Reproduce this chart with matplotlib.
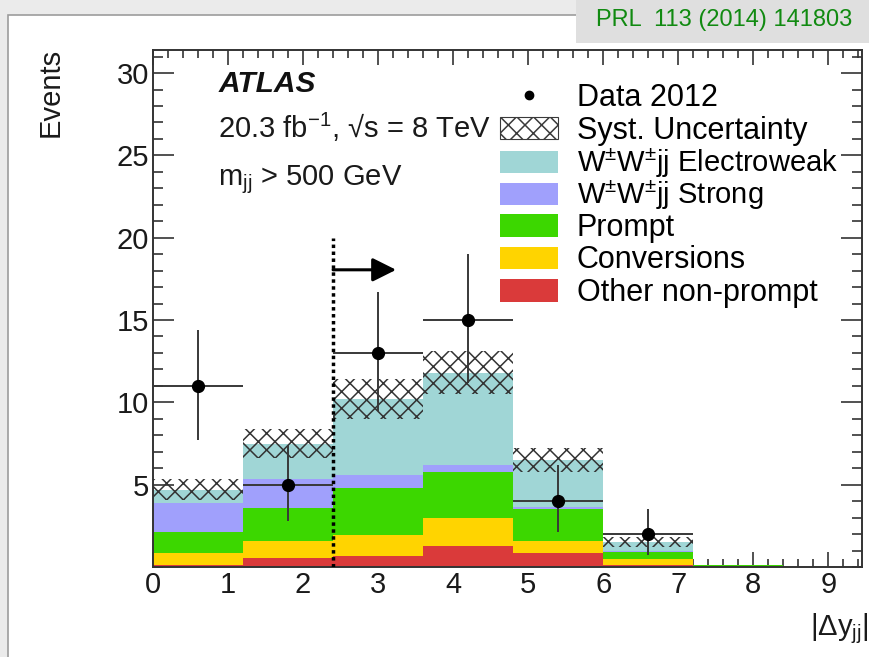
import numpy as np
import matplotlib
matplotlib.use("Agg")
import matplotlib.pyplot as plt
from matplotlib.patches import Rectangle, Patch
from matplotlib.lines import Line2D
from matplotlib.ticker import MultipleLocator

plt.rcParams['font.family'] = ['Liberation Sans', 'DejaVu Sans']
plt.rcParams['mathtext.fontset'] = 'custom'
plt.rcParams['mathtext.rm'] = 'Liberation Sans'
plt.rcParams['mathtext.it'] = 'Liberation Sans:italic'
plt.rcParams['mathtext.bf'] = 'Liberation Sans:bold'
plt.rcParams['hatch.linewidth'] = 1.1

# ---------------- data ----------------
bin_edges = [0.0, 1.2, 2.4, 3.6, 4.8, 6.0, 7.2, 8.4, 9.6]
other_nonprompt = [0.10, 0.55, 0.67, 1.30, 0.85, 0.10, 0.00, 0.0]
conversions     = [0.75, 1.05, 1.28, 1.70, 0.75, 0.40, 0.02, 0.0]
prompt          = [1.25, 2.00, 2.85, 2.80, 1.90, 0.40, 0.08, 0.0]
wwjj_strong     = [1.80, 1.75, 0.80, 0.40, 0.15, 0.05, 0.00, 0.0]
wwjj_ewk        = [0.80, 2.15, 4.60, 5.60, 2.85, 0.55, 0.02, 0.0]
syst_unc        = [0.65, 0.90, 1.20, 1.30, 0.75, 0.30, 0.00, 0.0]
data_2012       = [11, 5, 13, 15, 4, 2, 0, 0]
data_err_lo     = [3.3, 2.2, 3.5, 3.8, 1.9, 1.3, 0, 0]
data_err_hi     = [3.4, 2.4, 3.7, 4.0, 2.2, 1.5, 0, 0]

labels = ['Data 2012', 'Syst. Uncertainty',
          r'W$^{\pm}$W$^{\pm}$jj Electroweak', r'W$^{\pm}$W$^{\pm}$jj Strong',
          'Prompt', 'Conversions', 'Other non-prompt']
x_ticks = [0, 1, 2, 3, 4, 5, 6, 7, 8, 9]
y_ticks = [5, 10, 15, 20, 25, 30]
cut_value = 2.4

col_ewk = '#a0d6d6'
col_strong = '#a0a0fc'
col_prompt = '#3cd700'
col_conv = '#ffd400'
col_other = '#da3a3a'

# ---------------- figure ----------------
W, H = 870, 657
fig = plt.figure(figsize=(W / 100, H / 100), dpi=100)
fig.patch.set_facecolor('#ebebeb')
fig.add_artist(Rectangle((8 / W, -0.01), 1.0, 1 - 15 / H + 0.01, transform=fig.transFigure,
                         facecolor='white', edgecolor='#9c9c9c', lw=1.2, zorder=0))
fig.add_artist(Rectangle((576 / W, 1 - 43 / H), 1.0, 43 / H, transform=fig.transFigure,
                         facecolor='#dfdfdf', edgecolor='none', zorder=1))
fig.text(724 / W, 1 - 20 / H, 'PRL  113 (2014) 141803', color='#118a11',
         fontsize=17, ha='center', va='center', zorder=2)

ax_bottom_px, ax_top_px = 567, 50
ax = fig.add_axes([153 / W, 1 - ax_bottom_px / H, 709 / W, (ax_bottom_px - ax_top_px) / H])
ax.set_facecolor('white')

edges = np.array(bin_edges)
left = edges[:-1]
width = np.diff(edges)
centers = left + width / 2

bottom = np.zeros(len(left))
for vals, col in [(other_nonprompt, col_other), (conversions, col_conv),
                  (prompt, col_prompt), (wwjj_strong, col_strong), (wwjj_ewk, col_ewk)]:
    v = np.array(vals)
    ax.bar(left, v, width=width, bottom=bottom, align='edge', color=col, linewidth=0, zorder=2)
    bottom = bottom + v
total = bottom
syst = np.array(syst_unc)
ax.bar(left, 2 * syst, width=width, bottom=total - syst, align='edge', fill=False,
       hatch='xx', edgecolor='#333333', linewidth=0, zorder=3)

# cut line and arrow
ax.plot([cut_value, cut_value], [0, 20], color='black', lw=2.5, linestyle=(0, (1, 1)),
        dash_capstyle='butt', zorder=4)
ax.annotate('', xy=(3.24, 18.05), xytext=(cut_value, 18.05),
            arrowprops=dict(arrowstyle='-|>', lw=2.2, color='black', mutation_scale=36,
                            shrinkA=0, shrinkB=0), zorder=5)

# data
d = np.array(data_2012, dtype=float)
m = d > 0
ax.errorbar(centers[m], d[m], xerr=width[m] / 2,
            yerr=[np.array(data_err_lo)[m], np.array(data_err_hi)[m]],
            fmt='o', color='black', ecolor='#383838', elinewidth=1.4, markersize=8.5,
            capsize=0, zorder=6)

ax.set_xlim(0, 9.45)
ax.set_ylim(0, 31.4)
ax.set_xticks(x_ticks)
ax.set_yticks(y_ticks)
ax.xaxis.set_minor_locator(MultipleLocator(0.2))
ax.yaxis.set_minor_locator(MultipleLocator(1))
ax.tick_params(which='both', direction='in', top=True, right=True, colors='#333333',
               labelcolor='#1a1a1a', labelsize=21, width=1.2)
ax.tick_params(axis='x', which='major', length=10.5, pad=3)
ax.tick_params(axis='x', which='minor', length=5.5)
ax.tick_params(axis='y', which='major', length=15, pad=3)
ax.tick_params(axis='y', which='minor', length=7.5)
for s in ax.spines.values():
    s.set_color('#333333')
    s.set_linewidth(1.4)

ax.set_ylabel('Events', fontsize=21, loc='top', color='#1a1a1a')
ax.yaxis.set_label_coords(-0.125, 1.005)
ax.set_xlabel(r'|$\Delta$y$_\mathregular{jj}$|', fontsize=21, loc='right', color='#1a1a1a')
ax.xaxis.set_label_coords(1.01, -0.085)

# labels
ax.text(0.092, 0.919, 'ATLAS', transform=ax.transAxes, fontsize=21.5, fontweight='bold',
        fontstyle='italic', va='baseline', ha='left', color='#111111')
ax.text(0.092, 0.830, r'20.3 fb$^\mathregular{-1}$, √s = 8 TeV', transform=ax.transAxes,
        fontsize=21, va='baseline', ha='left', color='#1a1a1a')
ax.text(0.092, 0.739, r'm$_\mathregular{jj}$ > 500 GeV', transform=ax.transAxes,
        fontsize=21, va='baseline', ha='left', color='#1a1a1a')

handles = [
    Line2D([], [], marker='o', color='black', linestyle='none', markersize=6),
    Patch(facecolor='white', edgecolor='#3a3a3a', hatch='xx', linewidth=0.8),
    Patch(facecolor=col_ewk, linewidth=0),
    Patch(facecolor=col_strong, linewidth=0),
    Patch(facecolor=col_prompt, linewidth=0),
    Patch(facecolor=col_conv, linewidth=0),
    Patch(facecolor=col_other, linewidth=0),
]
# one legend per row so that every row has the same pitch
leg_x = (500 - 153) / 709
row0_px, pitch_px = 98.0, 32.5
ax_h_px = ax_bottom_px - ax_top_px
legs = []
for i, (h, lab) in enumerate(zip(handles, labels)):
    fs = 21 if '$' in lab else 22
    hl = 1.9 * 22 / fs
    hh = 0.76 * 22 / fs
    tp = 0.62 * 22 / fs
    yc = (ax_bottom_px - (row0_px + pitch_px * i)) / ax_h_px
    lg = ax.legend([h], [lab], loc='center left', bbox_to_anchor=(leg_x, yc),
                   frameon=False, fontsize=fs, borderpad=0, borderaxespad=0,
                   handlelength=hl, handleheight=hh, handletextpad=tp)
    legs.append(lg)
for lg in legs[:-1]:
    ax.add_artist(lg)

fig.savefig('out.png', dpi=100, facecolor=fig.get_facecolor())
